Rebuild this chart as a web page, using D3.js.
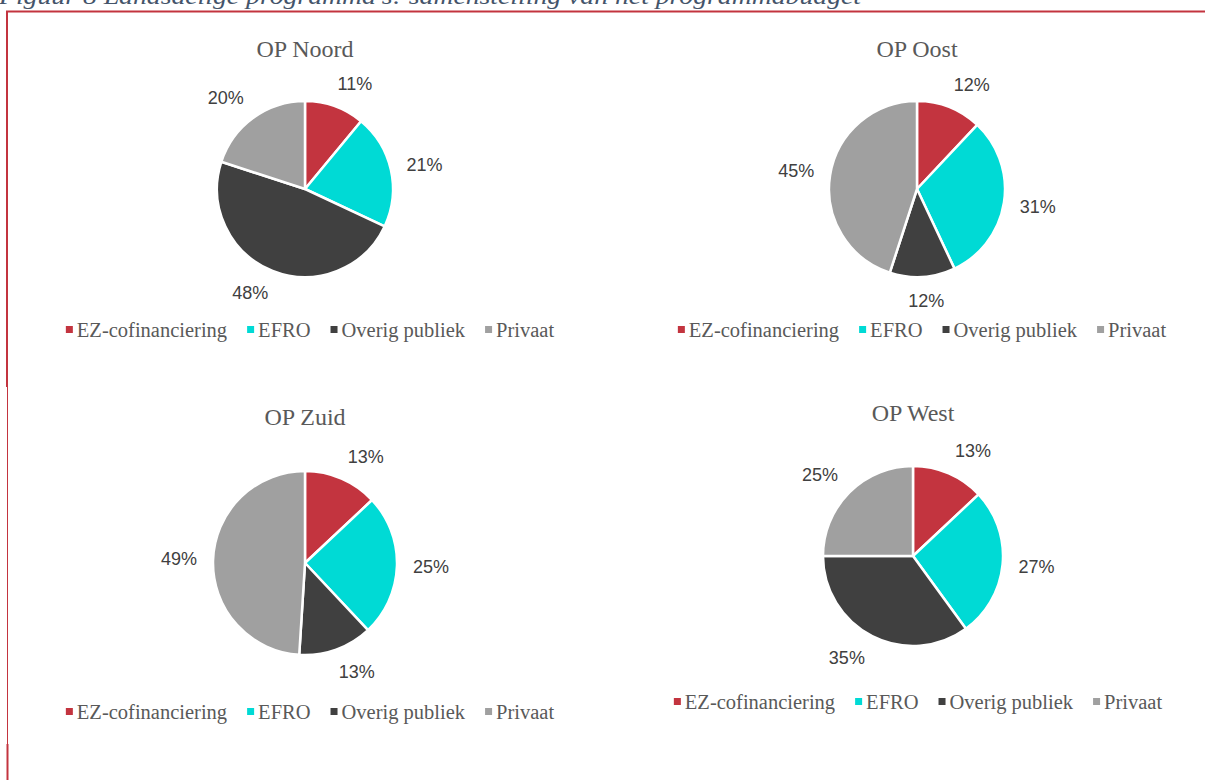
<!DOCTYPE html>
<html>
<head>
<meta charset="utf-8">
<script src="https://cdn.jsdelivr.net/npm/d3@7"></script>
<style>
  body { margin: 0; background: #fff; }
  svg { display: block; }
</style>
</head>
<body>
<div id="chart"></div>
<script>
// categories + colours, shared by all four pies
const categories = ["EZ-cofinanciering", "EFRO", "Overig publiek", "Privaat"];
const colors = ["#C3343F", "#00DAD5", "#404040", "#A0A0A0"];

// share of the programme budget (%) per region
const regions = ["OP Noord", "OP Oost", "OP Zuid", "OP West"];
const noordValues = [11, 21, 48, 20];
const oostValues = [12, 31, 12, 45];
const zuidValues = [13, 25, 13, 49];
const westValues = [13, 27, 35, 25];

const figTitle = "Figuur 8 Landsdelige programma's: samenstelling van het programmabudget";

const width = 1205, height = 780;

// layout per panel (centre of pie, radius, title / legend baselines)
const panels = [
  { name: regions[0], values: noordValues, cx: 305, cy: 189, r: 88, titleY: 57, legendY: 330 },
  { name: regions[1], values: oostValues,  cx: 917, cy: 189, r: 88, titleY: 57, legendY: 330 },
  { name: regions[2], values: zuidValues,  cx: 305, cy: 563, r: 92, titleY: 425, legendY: 712 },
  { name: regions[3], values: westValues,  cx: 913, cy: 556, r: 90, titleY: 421, legendY: 702 },
];

const svg = d3.select("#chart").append("svg")
    .attr("width", width)
    .attr("height", height)
;

// figure caption, cut off at the top like in the report
svg.append("text")
    .attr("x", -1)
    .attr("y", 4)
    .attr("font-family", "Liberation Serif, serif")
    .attr("font-style", "italic")
    .attr("font-size", 24)
    .attr("fill", "#44546A")
    .attr("textLength", 862)
    .attr("lengthAdjust", "spacingAndGlyphs")
    .text(figTitle)
;

// red frame (top + left)
const frame = "#C3343F";
svg.append("line").attr("x1", 6).attr("x2", width).attr("y1", 11.5).attr("y2", 11.5)
    .attr("stroke", frame).attr("stroke-width", 2);
svg.append("line").attr("x1", 7).attr("x2", 7).attr("y1", 11).attr("y2", 387)
    .attr("stroke", frame).attr("stroke-width", 2);
svg.append("line").attr("x1", 7.5).attr("x2", 7.5).attr("y1", 387).attr("y2", 744)
    .attr("stroke", frame).attr("stroke-width", 1);
svg.append("line").attr("x1", 7.5).attr("x2", 7.5).attr("y1", 744).attr("y2", height)
    .attr("stroke", frame).attr("stroke-width", 2);

const color = d3.scaleOrdinal().domain(categories).range(colors);

const pie = d3.pie()
    .sort(null)
    .value(d => d.value)
;

panels.forEach(p => {
  const g = svg.append("g")
      .attr("transform", `translate(${p.cx},${p.cy})`)
  ;
  const data = categories.map((c, i) => ({ cat: c, value: p.values[i] }));
  const arcs = pie(data);
  const arc = d3.arc().innerRadius(0).outerRadius(p.r);

  g.selectAll("path")
    .data(arcs)
    .enter().append("path")
      .attr("d", arc)
      .attr("fill", d => color(d.data.cat))
      .attr("stroke", "#fff")
      .attr("stroke-width", 2.5)
      .attr("stroke-linejoin", "round")
  ;

  // outside-end labels
  const labels = g.selectAll("text.pct")
    .data(arcs)
    .enter().append("text")
      .attr("class", "pct")
      .attr("font-family", "Liberation Sans, Arial, sans-serif")
      .attr("font-size", 18)
      .attr("fill", "#404040")
      .attr("dominant-baseline", "central")
      .attr("text-anchor", "middle")
      .text(d => d.data.value + "%")
  ;
  labels.each(function(d) {
    const a = (d.startAngle + d.endAngle) / 2;
    const dx = Math.sin(a), dy = -Math.cos(a);
    const rr = p.r + 16;
    const w = this.getComputedTextLength();
    const h = 16;
    const shift = Math.sign(dx) * Math.min(1, 2.5 * Math.abs(dx)) * w / 2;
    d3.select(this)
      .attr("x", dx * rr + shift)
      .attr("y", dy * rr + dy * h / 2);
  });

  // panel title
  svg.append("text")
      .attr("x", p.cx)
      .attr("y", p.titleY)
      .attr("text-anchor", "middle")
      .attr("font-family", "Liberation Serif, serif")
      .attr("font-size", 24)
      .attr("fill", "#595959")
      .text(p.name)
  ;

  // legend, centred under the pie
  const leg = svg.append("g");
  let x = 0;
  categories.forEach((c, i) => {
    const item = leg.append("g").attr("transform", `translate(${x},0)`);
    item.append("rect")
        .attr("x", 0).attr("y", -4)
        .attr("width", 7).attr("height", 7)
        .attr("fill", color(c));
    const t = item.append("text")
        .attr("x", 11)
        .attr("y", 0)
        .attr("dominant-baseline", "central")
        .attr("font-family", "Liberation Serif, serif")
        .attr("font-size", 20.5)
        .attr("fill", "#595959")
        .text(c);
    x += 11 + t.node().getComputedTextLength() + 20;
  });
  const legW = x - 20;
  leg.attr("transform", `translate(${p.cx + 5 - legW / 2},${p.legendY})`);
});
</script>
</body>
</html>
